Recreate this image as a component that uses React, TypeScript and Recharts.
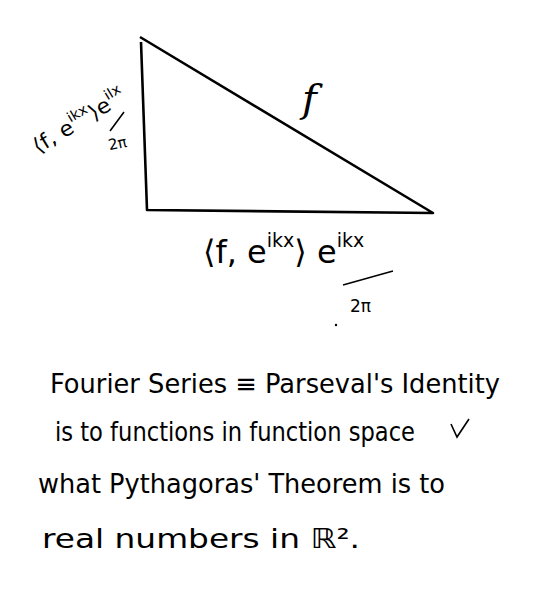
import React from "react";
import { ComposedChart, Line, XAxis, YAxis, Customized } from "recharts";

// triangle corners, in page pixels (x right, y down)
const cornerX = [141, 147, 433, 140];
const cornerY = [42, 210, 213, 37];

const noteLines = [
  "Fourier Series ≡ Parseval's Identity",
  "is to functions in function space",
  "what Pythagoras' Theorem is to",
  "real numbers in ℝ².",
];

const hypotenuseLabel = "f";
const coefficient = ["⟨f, e", "ikx", "⟩ e", "ikx"];
const sideCoefficient = ["⟨f, e", "ikx", "⟩e", "ilx"];
const denominator = "2π";

const W = 538;
const H = 598;
const FONT = "'DejaVu Sans', sans-serif";

const triangle = cornerX.map((x, i) => ({ x, y: cornerY[i] }));

const Notes = () => {
  const rows = [
    { y: 393, x: 50, len: 450 },
    { y: 441, x: 55, len: 360 },
    { y: 493, x: 38, len: 407 },
    { y: 548, x: 42, len: 318 },
  ];
  return (
    <g fontFamily={FONT} fill="#000">
      <text x={302} y={112} fontSize={40} fontFamily="'DejaVu Serif', serif" fontStyle="italic">
        {hypotenuseLabel}
      </text>

      {/* side label, tilted */}
      <g transform="translate(38,154) rotate(-31)">
        <text x={0} y={0} fontSize={21} textLength={104} lengthAdjust="spacingAndGlyphs">
          {sideCoefficient[0]}
          <tspan dy={-10} fontSize={14}>{sideCoefficient[1]}</tspan>
          <tspan dy={10}>{sideCoefficient[2]}</tspan>
          <tspan dy={-10} fontSize={14}>{sideCoefficient[3]}</tspan>
        </text>
      </g>
      <line x1={110} y1={131} x2={124} y2={112} stroke="#000" strokeWidth={1.6} />
      <text x={108} y={148} fontSize={15} transform="rotate(-12 120 142)">{denominator}</text>

      {/* bottom label */}
      <text x={203} y={263} fontSize={32}>
        {coefficient[0]}
        <tspan dy={-16} fontSize={19}>{coefficient[1]}</tspan>
        <tspan dy={16}>{coefficient[2]}</tspan>
        <tspan dy={-16} fontSize={19}>{coefficient[3]}</tspan>
      </text>
      <line x1={343} y1={285} x2={393} y2={271} stroke="#000" strokeWidth={1.6} />
      <text x={350} y={312} fontSize={17}>{denominator}</text>
      <circle cx={336} cy={325} r={1.2} fill="#000" />

      {noteLines.map((t, i) => (
        <text
          key={t}
          x={rows[i].x}
          y={rows[i].y}
          fontSize={27}
          textLength={rows[i].len}
          lengthAdjust="spacingAndGlyphs"
        >
          {t}
        </text>
      ))}
      {/* tick mark after the second line */}
      <polyline points="451,424 457,437 469,419" fill="none" stroke="#000" strokeWidth={1.6} />
    </g>
  );
};

export default function App() {
  return (
    <div style={{ position: "absolute", left: 0, top: 0, width: W, height: H, background: "#fff" }}>
      <ComposedChart width={W} height={H} data={triangle} margin={{ top: 0, right: 0, bottom: 0, left: 0 }}>
        <XAxis type="number" dataKey="x" domain={[0, W]} hide />
        <YAxis type="number" domain={[0, H]} reversed hide />
        <Line
          dataKey="y"
          type="linear"
          stroke="#000"
          strokeWidth={2.6}
          strokeLinejoin="round"
          dot={false}
          activeDot={false}
          isAnimationActive={false}
        />
        <Customized component={Notes} />
      </ComposedChart>
    </div>
  );
}
